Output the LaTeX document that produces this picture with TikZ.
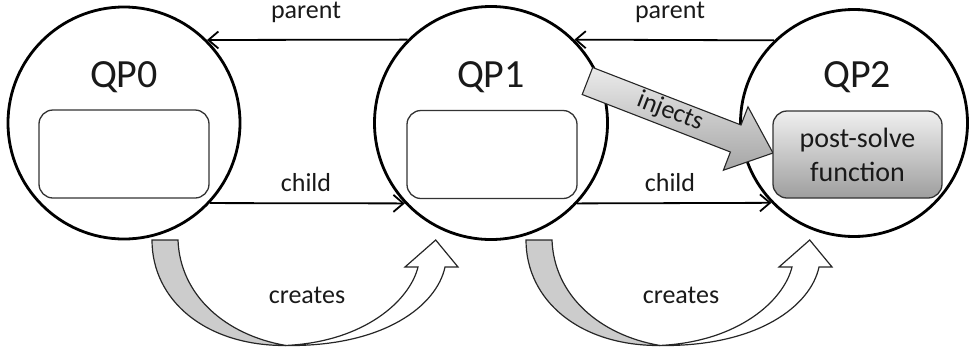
\documentclass[tikz,border=0pt]{standalone}
\usepackage{fontspec}
\setmainfont{Carlito}
\usetikzlibrary{arrows.meta}
\begin{document}
\begin{tikzpicture}[x=1pt,y=-1pt,
  qp/.style={circle,draw=black,line width=2.8pt,inner sep=0pt,minimum size=#1},
  qplabel/.style={font=\fontsize{40}{48}\selectfont,anchor=base,text=black!90},
  slot/.style={draw=black!80,line width=1.3pt,rounded corners=14pt,minimum width=170pt,minimum height=88pt,inner sep=0pt},
  link/.style={line width=1.8pt,-{Straight Barb[length=10pt,width=17pt]}},
  lab/.style={font=\fontsize{26}{30}\selectfont,anchor=base,text=black!90},
  backband/.style={draw=black!85,line width=1.2pt,fill=black!20},
  frontband/.style={draw=black!85,line width=1.2pt,fill=white},
  inject/.style={draw=black!85,line width=1.1pt,top color=black!8,bottom color=black!35}
]
\useasboundingbox (0,0) rectangle (969,354);

% circles
\node[qp=232pt] (QP0) at (124,123) {};
\node[qp=233pt] (QP1) at (491,123) {};
\node[qp=227pt] (QP2) at (854,123) {};

% titles
\node[qplabel] (t0) at (124,87) {QP0};
\node[qplabel] (t1) at (491,87) {QP1};
\node[qplabel] (t2) at (857,87) {QP2};

% inner slots
\node[slot] (s0) at (124,154) {};
\node[slot] (s1) at (492,154.5) {};

% connectors
\draw[link] (QP1.135) -- (QP0.45);
\draw[link] (QP0.-43) -- (QP1.223);
\draw[link] (QP2.134) -- (QP1.45);
\draw[link] (QP1.-43) -- (QP2.224);

\node[lab] (p0) at (306,18.5) {parent};
\node[lab] (p1) at (670,18.5) {parent};
\node[lab] (c0) at (306,191) {child};
\node[lab] (c1) at (670,191) {child};

% curved "creates" arrows
\foreach \dx/\nm in {0/a,374/b}{
  \begin{scope}[shift={(\dx,0)}]
    \draw[backband] (152,240) -- (178,240)
      .. controls (180,295) and (225,335) .. (286,345.5)
      .. controls (205,346) and (152,300) .. (152,240) -- cycle;
    \draw[frontband] (285,345.5) .. controls (385,347) and (437,305) .. (445,267)
      -- (458,267) -- (435.7,240) -- (405,267) -- (418,267)
      .. controls (410,300) and (365,342) .. (285,345.5) -- cycle;
    \node[lab] (cr\nm) at (307,303) {creates};
  \end{scope}
}

% injects arrow
\draw[inject] (592.7,67.5) -- (741,125) -- (748,106.8) -- (773,153)
  -- (723.4,170.2) -- (730.4,152) -- (582.2,94.5) -- cycle;
\node[font=\fontsize{26}{30}\selectfont,rotate=-21.2,text=black!90] (inj) at (670,112) {injects};

% post-solve box
\node[slot,minimum width=169pt,minimum height=87pt,top color=black!6,bottom color=black!38,
  align=center,font=\fontsize{28}{34}\selectfont,text=black!90] (ps) at (857.5,154.5) {post-solve\\function};
\end{tikzpicture}
\end{document}
